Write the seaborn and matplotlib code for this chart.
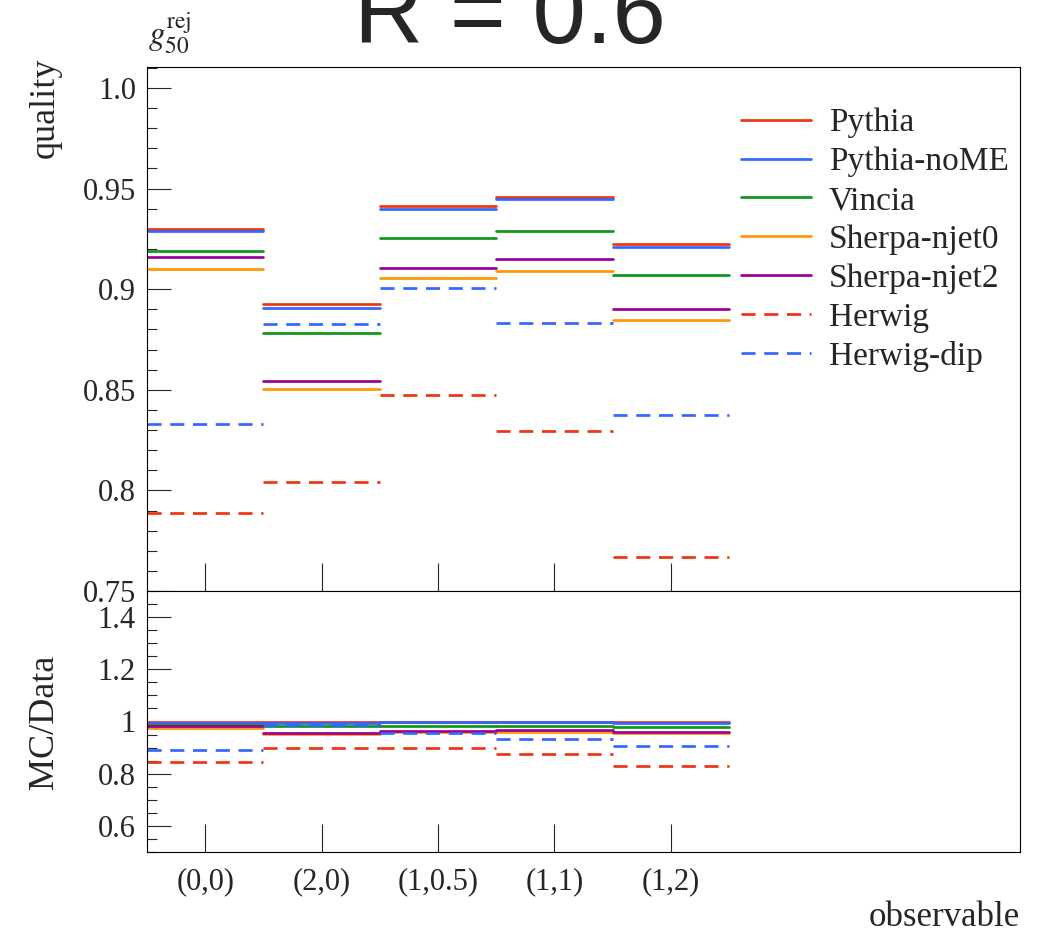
import numpy as np
import pandas as pd
import matplotlib
matplotlib.use("Agg")
import matplotlib.pyplot as plt
from matplotlib.lines import Line2D
from matplotlib.ticker import MultipleLocator, FixedLocator
import seaborn as sns

# ---- data -------------------------------------------------------------
observables = ["(0,0)", "(2,0)", "(1,0.5)", "(1,1)", "(1,2)"]

pythia        = [0.9300, 0.8928, 0.9414, 0.9460, 0.9226]
pythia_nome   = [0.9290, 0.8908, 0.9397, 0.9447, 0.9210]
vincia        = [0.9190, 0.8781, 0.9253, 0.9289, 0.9069]
sherpa_njet0  = [0.9102, 0.8506, 0.9054, 0.9090, 0.8845]
sherpa_njet2  = [0.9158, 0.8544, 0.9104, 0.9150, 0.8903]
herwig        = [0.7886, 0.8042, 0.8476, 0.8295, 0.7667]
herwig_dip    = [0.8329, 0.8829, 0.9004, 0.8832, 0.8375]

# reference values used as denominator of the ratio panel
data_ref      = [0.9330, 0.8945, 0.9430, 0.9470, 0.9260]

generators = ["Pythia", "Pythia-noME", "Vincia", "Sherpa-njet0",
              "Sherpa-njet2", "Herwig", "Herwig-dip"]
series = [pythia, pythia_nome, vincia, sherpa_njet0, sherpa_njet2,
          herwig, herwig_dip]

palette = {
    "Pythia": "#EE3311",
    "Pythia-noME": "#3366FF",
    "Vincia": "#109618",
    "Sherpa-njet0": "#FF9900",
    "Sherpa-njet2": "#990099",
    "Herwig": "#EE3311",
    "Herwig-dip": "#3366FF",
}
dash_pat = (5.2, 3.2)
dashes = {g: "" for g in generators}
dashes["Herwig"] = dash_pat
dashes["Herwig-dip"] = dash_pat

# ---- long-form table: one flat segment per bin ------------------------
rows = []
for gen, vals in zip(generators, series):
    for i, (v, d) in enumerate(zip(vals, data_ref)):
        seg = f"{gen}-{i}"
        for x in (i, i + 1):
            rows.append({"gen": gen, "seg": seg, "x": x,
                         "value": v, "ratio": v / d})
df = pd.DataFrame(rows)

# ---- style ------------------------------------------------------------
sns.set_theme(style="ticks")
plt.rcParams["font.family"] = ["Liberation Serif", "DejaVu Serif"]
plt.rcParams["mathtext.fontset"] = "stix"
plt.rcParams["axes.linewidth"] = 0.8
plt.rcParams["axes.edgecolor"] = "black"

fig = plt.figure(figsize=(10.5, 9.33), dpi=100)
L, R = 147 / 1050, 1020 / 1050
ax_top = fig.add_axes([L, 1 - 591 / 933, R - L, (591 - 67) / 933])
ax_bot = fig.add_axes([L, 1 - 852 / 933, R - L, (852 - 591) / 933])

lw = 1.95
common = dict(x="x", hue="gen", style="gen", units="seg", estimator=None,
              palette=palette, dashes=dashes, hue_order=generators,
              style_order=generators, sort=False, legend=False,
              linewidth=lw)
sns.lineplot(data=df, y="value", ax=ax_top, **common)
sns.lineplot(data=df, y="ratio", ax=ax_bot, **common)

nbins = len(observables)
centers = np.arange(nbins) + 0.5
tick_fs = 22
label_fs = 26

for ax in (ax_top, ax_bot):
    ax.set_xlim(0, 7.5)
    ax.set_xlabel("")
    ax.set_ylabel("")
    ax.xaxis.set_major_locator(FixedLocator(centers))
    ax.tick_params(axis="x", which="major", direction="in", length=20,
                   width=0.8, top=False, bottom=True, pad=11)
    ax.tick_params(axis="x", which="minor", length=0)
    ax.tick_params(axis="y", which="major", direction="in", length=17,
                   width=0.8, left=True, right=False, labelsize=tick_fs, pad=8)
    ax.tick_params(axis="y", which="minor", direction="in", length=7,
                   width=0.8, left=True, right=False)
    for s in ax.spines.values():
        s.set_visible(True)
        s.set_linewidth(0.8)
        s.set_color("black")

# top panel
ax_top.set_ylim(0.75, 1.0104)
ax_top.yaxis.set_major_locator(FixedLocator([0.75, 0.8, 0.85, 0.9, 0.95, 1.0]))
ax_top.set_yticklabels(["0.75", "0.8", "0.85", "0.9", "0.95", "1.0"])
ax_top.yaxis.set_minor_locator(MultipleLocator(0.01))
ax_top.tick_params(axis="x", labelbottom=False)

# ratio panel
ax_bot.set_ylim(0.5, 1.5)
ax_bot.yaxis.set_major_locator(FixedLocator([0.6, 0.8, 1.0, 1.2, 1.4]))
ax_bot.set_yticklabels(["0.6", "0.8", "1", "1.2", "1.4"])
ax_bot.yaxis.set_minor_locator(MultipleLocator(0.05))
ax_bot.set_xticklabels(observables, fontsize=tick_fs)

# legend
handles = [Line2D([], [], color=palette[g], linewidth=lw,
                  linestyle=(0, dashes[g]) if dashes[g] else "-")
           for g in generators]
ax_top.legend(handles, generators, loc="upper left",
              bbox_to_anchor=(0.6804, 0.922), frameon=False,
              fontsize=24, handlelength=2.1, handletextpad=0.54,
              labelspacing=0.25, borderpad=0, borderaxespad=0)

# labels and title
fig.text(45 / 1050, 1 - 58 / 933, "quality", rotation=90, ha="center",
         va="top", fontsize=label_fs)
fig.text(45 / 1050, 1 - 722 / 933, "MC/Data", rotation=90, ha="center",
         va="center", fontsize=label_fs)
fig.text(1020 / 1050, 1 - 926 / 933, "observable", ha="right",
         va="baseline", fontsize=25)
fig.text(148 / 1050, 1 - 44 / 933, r"$g_{50}^{\mathrm{rej}}$", ha="left",
         va="baseline", fontsize=24)
fig.text(510 / 1050, 1 - 43 / 933, "R = 0.6", ha="center", va="baseline",
         fontsize=69, family="Liberation Sans")

fig.savefig("out.png", dpi=100)
